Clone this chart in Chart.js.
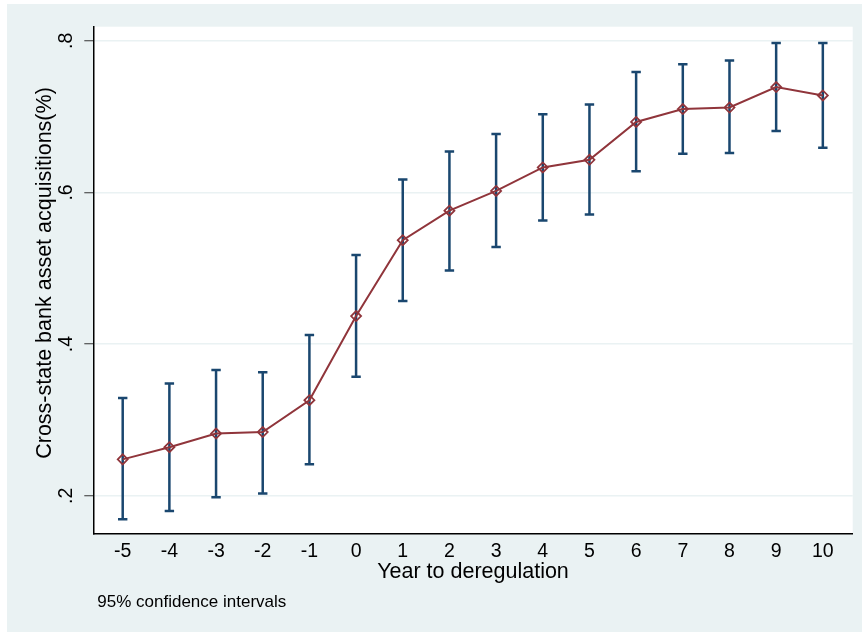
<!DOCTYPE html>
<html><head><meta charset="utf-8">
<script src="https://cdn.jsdelivr.net/npm/chart.js@4.4.1/dist/chart.umd.min.js"></script>
<style>html,body{margin:0;padding:0;background:#fff;} canvas{display:block;}</style>
</head><body>
<canvas id="c" width="862" height="632"></canvas>
<script>
const years = [-5, -4, -3, -2, -1, 0, 1, 2, 3, 4, 5, 6, 7, 8, 9, 10];
const estimates = [0.248, 0.264, 0.282, 0.284, 0.326, 0.437, 0.537, 0.576, 0.602, 0.633, 0.643, 0.693, 0.710, 0.712, 0.739, 0.728];
const ciLower = [0.169, 0.180, 0.198, 0.203, 0.2415, 0.357, 0.457, 0.497, 0.528, 0.563, 0.571, 0.628, 0.651, 0.652, 0.681, 0.659];
const ciUpper = [0.329, 0.348, 0.366, 0.363, 0.412, 0.5175, 0.617, 0.654, 0.677, 0.703, 0.716, 0.759, 0.769, 0.774, 0.797, 0.797];
const yTickValues = [0.2, 0.4, 0.6, 0.8];
const yTickLabels = ['.2', '.4', '.6', '.8'];
const xTickValues = years;
const xTitle = 'Year to deregulation';
const yTitle = 'Cross-state bank asset acquisitions(%)';
const noteText = '95% confidence intervals';

const FONT = 'Liberation Sans';
const OUTER = '#EAF2F3';

const bg = {
  id: 'bg',
  beforeDraw(chart) {
    const {ctx, width, height, chartArea: a} = chart;
    ctx.save();
    ctx.fillStyle = '#ffffff';
    ctx.fillRect(0, 0, width, height);
    ctx.fillStyle = OUTER;
    ctx.fillRect(7, 4, width - 7, height - 4);
    ctx.fillStyle = '#ffffff';
    ctx.fillRect(a.left, a.top, a.right - a.left, a.bottom - a.top);
    ctx.restore();
  }
};

const errorBars = {
  id: 'errorBars',
  beforeDatasetsDraw(chart) {
    const {ctx, scales: {x, y}} = chart;
    ctx.save();
    ctx.strokeStyle = '#1a476f';
    ctx.lineWidth = 2.5;
    ctx.lineCap = 'butt';
    years.forEach((yr, i) => {
      const px = x.getPixelForValue(yr);
      const pLo = y.getPixelForValue(ciLower[i]);
      const pHi = y.getPixelForValue(ciUpper[i]);
      ctx.beginPath();
      ctx.moveTo(px, pLo); ctx.lineTo(px, pHi);
      ctx.moveTo(px - 4.7, pLo); ctx.lineTo(px + 4.7, pLo);
      ctx.moveTo(px - 4.7, pHi); ctx.lineTo(px + 4.7, pHi);
      ctx.stroke();
    });
    ctx.restore();
  }
};

const texts = {
  id: 'texts',
  afterDraw(chart) {
    const {ctx, chartArea: a} = chart;
    ctx.save();
    ctx.fillStyle = '#000';
    ctx.font = '17px "' + FONT + '"';
    ctx.textAlign = 'left';
    ctx.textBaseline = 'alphabetic';
    ctx.fillText(noteText, a.left + 4, 606.5);
    ctx.restore();
    ctx.save();
    ctx.fillStyle = '#000';
    ctx.font = '21.5px "' + FONT + '"';
    ctx.textAlign = 'center';
    ctx.textBaseline = 'middle';
    ctx.translate(45.2, (a.top + a.bottom) / 2 - 7);
    ctx.rotate(-Math.PI / 2);
    ctx.fillText(yTitle, 0, 0);
    ctx.restore();
  }
};

new Chart(document.getElementById('c'), {
  type: 'line',
  data: {
    datasets: [{
      data: years.map((yr, i) => ({x: yr, y: estimates[i]})),
      borderColor: '#90353b',
      borderWidth: 2,
      pointStyle: 'rectRot',
      pointRadius: 5,
      pointBorderWidth: 1.8,
      pointBackgroundColor: 'rgba(0,0,0,0)',
      pointBorderColor: '#90353b',
      tension: 0,
      fill: false
    }]
  },
  options: {
    responsive: false,
    animation: false,
    devicePixelRatio: 1,
    layout: {padding: {top: 26.7, right: 9.3, left: 0, bottom: 40}},
    plugins: {legend: {display: false}, tooltip: {enabled: false}},
    scales: {
      x: {
        type: 'linear', min: -5.63, max: 10.64,
        afterBuildTicks: s => { s.ticks = xTickValues.map(v => ({value: v})); },
        afterFit: s => { s.height = 58.7; },
        grid: {display: false, drawTicks: false},
        border: {display: true, color: '#000', width: 1.5},
        ticks: {padding: 6.2, autoSkip: false, maxRotation: 0, minRotation: 0, color: '#000',
          font: {family: FONT, size: 19.5}, callback: v => String(v)},
        title: {display: true, text: xTitle, color: '#000', font: {family: FONT, size: 21.5},
          padding: {top: 0, bottom: 7.25}}
      },
      y: {
        type: 'linear', min: 0.1505, max: 0.8186,
        afterBuildTicks: s => { s.ticks = yTickValues.map(v => ({value: v})); },
        afterFit: s => { s.width = 93.3; },
        grid: {color: OUTER, lineWidth: 1.5, tickColor: '#333', tickLength: 9, tickWidth: 1},
        border: {display: true, color: '#000', width: 1.5},
        ticks: {padding: 9.7, autoSkip: false, minRotation: 90, maxRotation: 90, crossAlign: 'center',
          color: '#000', font: {family: FONT, size: 19.5},
          callback: v => { const k = yTickValues.indexOf(v); return k >= 0 ? yTickLabels[k] : ''; }},
        title: {display: false}
      }
    }
  },
  plugins: [bg, errorBars, texts]
});
</script>
</body></html>
